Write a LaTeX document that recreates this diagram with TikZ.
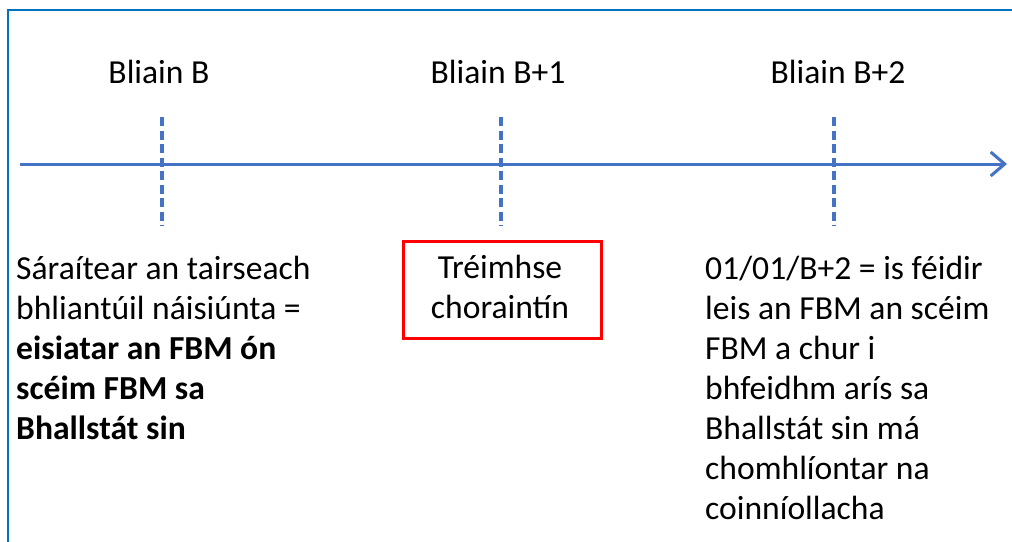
\documentclass[tikz,border=0pt]{standalone}
\usepackage{fontspec}
\setmainfont{Carlito}
\usetikzlibrary{arrows.meta}
\definecolor{frameblue}{RGB}{0,112,192}
\definecolor{axisblue}{RGB}{68,114,196}
\definecolor{boxred}{RGB}{255,0,0}
\begin{document}
\begin{tikzpicture}[x=1pt,y=-1pt,
  txt/.style={inner sep=0pt, font=\fontsize{33.6}{40}\selectfont, text=black},
  tick/.style={draw=axisblue, line width=3.5pt, dash pattern=on 9pt off 4.5pt},
  axisline/.style={draw=axisblue, line width=3pt, -{Straight Barb[length=14pt,width=24pt,line width=3pt]}},
  redbox/.style={draw=boxred, line width=3pt}]
\useasboundingbox (0,0) rectangle (1012,541);
\fill[white] (0,0) rectangle (1012,541);
% frame (cropped at right and bottom)
\draw[frameblue, line width=2pt] (8,545) -- (8,10) -- (1016,10);
% axis
\coordinate (a0) at (20,164);
\coordinate (a1) at (1007,164);
\draw[axisline] (a0) -- (a1);
% ticks
\coordinate (t1a) at (162,117); \coordinate (t1b) at (162,226);
\coordinate (t2a) at (501,117); \coordinate (t2b) at (501,226);
\coordinate (t3a) at (834,117); \coordinate (t3b) at (834,226);
\draw[tick] (t1a) -- (t1b);
\draw[tick] (t2a) -- (t2b);
\draw[tick] (t3a) -- (t3b);
% year labels
\node[txt, anchor=base] (y1) at (159,83) {Bliain B};
\node[txt, anchor=base] (y2) at (498,83) {Bliain B+1};
\node[txt, anchor=base] (y3) at (838,83) {Bliain B+2};
% left text (base anchor = last line's baseline)
\node[txt, anchor=base west, align=left] (left) at (16,439)
 {Sáraítear an tairseach\\bhliantúil náisiúnta =\\\textbf{eisiatar an FBM ón}\\\textbf{scéim FBM sa}\\\textbf{Bhallstát sin}};
% middle box
\node[redbox, minimum width=198pt, minimum height=97pt, inner sep=0pt] (mid) at (502,289.5) {};
\node[txt, anchor=base] (m1) at (500,278) {Tréimhse};
\node[txt, anchor=base] (m2) at (500,318) {choraintín};
% right text
\node[txt, anchor=base west, align=left] (right) at (705,519)
 {01/01/B+2 = is féidir\\leis an FBM an scéim\\FBM a chur i\\bhfeidhm arís sa\\Bhallstát sin má\\chomhlíontar na\\coinníollacha};
\end{tikzpicture}
\end{document}
